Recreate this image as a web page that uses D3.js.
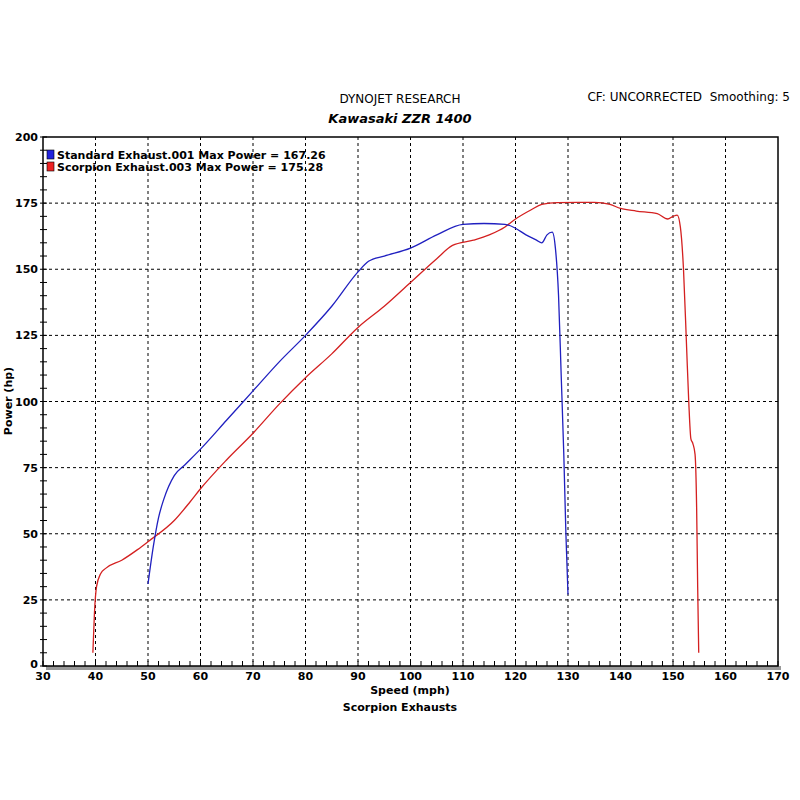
<!DOCTYPE html><html><head><meta charset="utf-8"><script src="https://cdn.jsdelivr.net/npm/d3@7"></script>
<style>body{margin:0;background:#fff}text{font-family:"DejaVu Sans",Verdana,sans-serif}</style></head><body>
<svg id="c" width="800" height="800"></svg>
<script>
const xTicks=[30,40,50,60,70,80,90,100,110,120,130,140,150,160,170];
const yTicks=[0,25,50,75,100,125,150,175,200];
const stdSpeed=[50,51,52,53,55,57,60,65,70,75,80,85,90,92,95,100,105,110,114,118,120,122,124,125,126,127,127.6,128.2,128.7,129.2,129.6,130];
const stdPower=[31,45,56,63,72,76,82,93,104,115,125,136,149,153,155,158,163,167,167.3,167,165.5,163,161,160,163,164,158,140,110,80,50,27];
const scoSpeed=[39.5,39.8,40.2,41,42,45,48,50,55,58,60,65,70,75,80,85,90,95,100,105,108,112,115,118,120,123,125,128,132,135,138,140,143,147,149,150,150.8,151.4,152,152.6,153,153.4,153.8,154.2,154.5,154.7,154.9];
const scoPower=[5,20,30,35,37,40,44,47,55,62,67,78,88,99,109,118,128,136,145,154,159,161,163,166,169,172.5,174.5,175.2,175.3,175.3,174.5,173,172,171,169,170,170.5,166,150,120,100,86,84,80,60,30,5];
const W=800,H=800,L=43,R=778,T=137,B=666;
const svg=d3.select("#c");
const x=d3.scaleLinear().domain([30,170]).range([L,R]);
const y=d3.scaleLinear().domain([0,200]).range([B,T]);
svg.append("rect").attr("x",L+3).attr("y",B).attr("width",R-L).attr("height",4).attr("fill","#999");
svg.append("rect").attr("x",L).attr("y",T).attr("width",R-L).attr("height",B-T).attr("fill","#fff").attr("stroke","#000").attr("stroke-width",1.5);
svg.append("g").selectAll("line").data(xTicks.slice(1,-1)).join("line").attr("x1",d=>x(d)).attr("x2",d=>x(d)).attr("y1",T).attr("y2",B).attr("stroke","#000").attr("stroke-dasharray","3,3");
svg.append("g").selectAll("line").data(yTicks.slice(1,-1)).join("line").attr("y1",d=>y(d)).attr("y2",d=>y(d)).attr("x1",L).attr("x2",R).attr("stroke","#000").attr("stroke-dasharray","3,3");
svg.append("g").selectAll("line").data(d3.range(30,171,2)).join("line").attr("x1",d=>x(d)).attr("x2",d=>x(d)).attr("y1",B-5).attr("y2",B).attr("stroke","#000");
svg.append("g").selectAll("line").data(d3.range(0,201,5)).join("line").attr("y1",d=>y(d)).attr("y2",d=>y(d)).attr("x1",L-3).attr("x2",L+4).attr("stroke","#000");
svg.append("g").selectAll("text").data(xTicks).join("text").attr("x",d=>x(d)).attr("y",B+14).attr("text-anchor","middle").attr("font-size",11).attr("font-weight","bold").text(d=>d);
svg.append("g").selectAll("text").data(yTicks).join("text").attr("x",L-5).attr("y",d=>d===0?y(d)+2:y(d)+4).attr("text-anchor","end").attr("font-size",11).attr("font-weight","bold").text(d=>d);
const line=d3.line().x(d=>x(d[0])).y(d=>y(d[1])).curve(d3.curveMonotoneX);
svg.append("path").attr("d",line(d3.zip(scoSpeed,scoPower))).attr("fill","none").attr("stroke","#d42020").attr("stroke-width",1.3);
svg.append("path").attr("d",line(d3.zip(stdSpeed,stdPower))).attr("fill","none").attr("stroke","#2020c0").attr("stroke-width",1.3);
[["Standard Exhaust.001 Max Power = 167.26","#2222dd"],["Scorpion Exhaust.003 Max Power = 175.28","#ee2222"]].forEach((d,i)=>{
 svg.append("rect").attr("x",47).attr("y",150+i*12).attr("width",7).attr("height",9).attr("fill",d[1]).attr("stroke","#000").attr("stroke-width",0.6);
 svg.append("text").attr("x",57).attr("y",159+i*12).attr("font-size",11).attr("font-weight","bold").text(d[0]);
});
svg.append("text").attr("x",400).attr("y",103).attr("text-anchor","middle").attr("font-size",12).attr("font-family","Liberation Sans, Arial").text("DYNOJET RESEARCH");
svg.append("text").attr("x",400).attr("y",123).attr("text-anchor","middle").attr("font-size",13).attr("font-weight","bold").attr("font-style","italic").text("Kawasaki ZZR 1400");
svg.append("text").attr("x",790).attr("y",101).attr("text-anchor","end").attr("font-size",12).attr("font-family","Liberation Sans, Arial").attr("xml:space","preserve").text("CF: UNCORRECTED  Smoothing: 5");
svg.append("text").attr("transform","translate(12,401) rotate(-90)").attr("text-anchor","middle").attr("font-size",11).attr("font-weight","bold").text("Power (hp)");
svg.append("text").attr("x",410).attr("y",694).attr("text-anchor","middle").attr("font-size",11).attr("font-weight","bold").text("Speed (mph)");
svg.append("text").attr("x",400).attr("y",711).attr("text-anchor","middle").attr("font-size",11).attr("font-weight","bold").text("Scorpion Exhausts");
</script></body></html>
